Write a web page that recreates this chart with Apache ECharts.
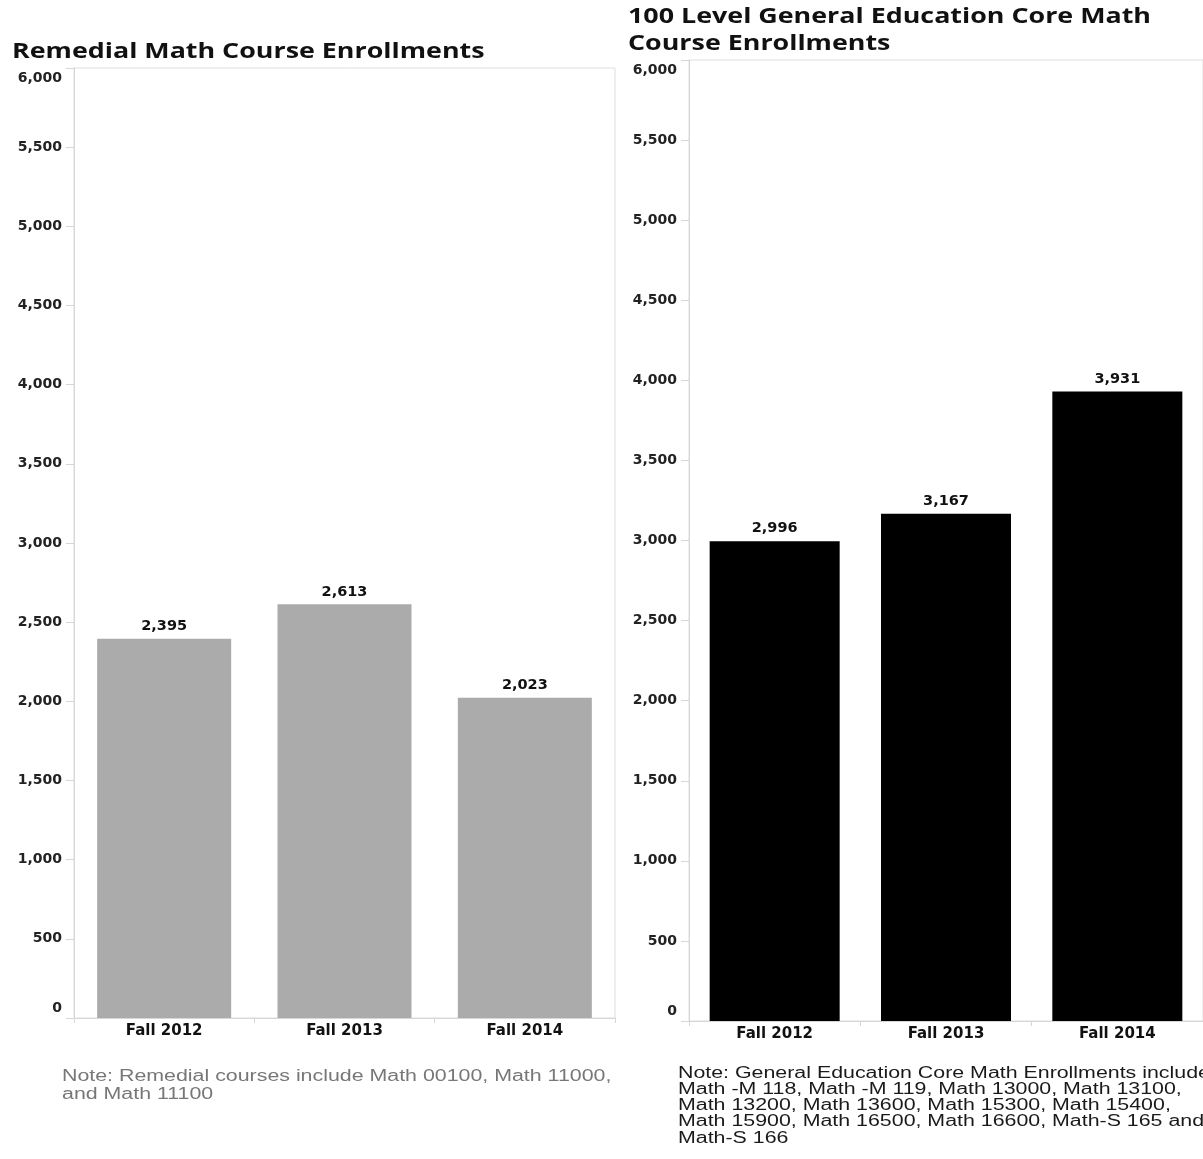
<!DOCTYPE html>
<html>
<head>
<meta charset="utf-8">
<script src="https://cdn.jsdelivr.net/npm/echarts@6/dist/echarts.min.js"></script>
<style>
  html, body { margin: 0; padding: 0; background: #ffffff; }
  #chart { width: 1203px; height: 1159px; }
</style>
</head>
<body>
<div id="chart"></div>
<script>
// Enrollment data by fall term
const terms = ['Fall 2012', 'Fall 2013', 'Fall 2014'];
const remedialEnrollments = [2395, 2613, 2023];
const coreMathEnrollments = [2996, 3167, 3931];
const yTicks = [0, 500, 1000, 1500, 2000, 2500, 3000, 3500, 4000, 4500, 5000, 5500, 6000];

const remedialTitle = 'Remedial Math Course Enrollments';
const coreTitle = '100 Level General Education Core Math\nCourse Enrollments';
const remedialNote = 'Note: Remedial courses include Math 00100, Math 11000,\nand Math 11100';
const coreNote = 'Note: General Education Core Math Enrollments include\nMath -M 118, Math -M 119, Math 13000, Math 13100,\nMath 13200, Math 13600, Math 15300, Math 15400,\nMath 15900, Math 16500, Math 16600, Math-S 165 and\nMath-S 166';

const fmt = v => Number(v).toLocaleString('en-US');
const AXIS_GRAY = '#d6d6d6';
const LABEL_FONT = 'DejaVu Sans, Verdana, sans-serif';
const TITLE_FONT = 'Open Sans, sans-serif';
const NOTE_FONT = 'Liberation Sans, Arial, sans-serif';
const TITLE_WIDE = 1.22;   // horizontal stretch of the panel titles
const NOTE_WIDE = 1.335;   // horizontal stretch of the footnotes

function yAxis(gridIndex) {
  return {
    type: 'value', gridIndex,
    min: yTicks[0], max: yTicks[yTicks.length - 1], interval: yTicks[1] - yTicks[0],
    axisLine: { show: true, lineStyle: { color: AXIS_GRAY } },
    axisTick: { show: true, length: 8, lineStyle: { color: AXIS_GRAY } },
    splitLine: { show: false },
    axisLabel: {
      margin: 12, color: '#222', fontFamily: LABEL_FONT, fontWeight: 'bold', fontSize: 14,
      lineHeight: 20,
      formatter: fmt,
      verticalAlignMinLabel: 'bottom', verticalAlignMaxLabel: 'top'
    }
  };
}
function xAxis(gridIndex) {
  return {
    type: 'category', gridIndex, data: terms,
    axisLine: { show: true, lineStyle: { color: AXIS_GRAY } },
    axisTick: { show: true, length: 5, lineStyle: { color: AXIS_GRAY } },
    axisLabel: { margin: 6, color: '#111', fontFamily: LABEL_FONT, fontWeight: 'bold', fontSize: 15 }
  };
}
function barSeries(idx, data, color, width) {
  return {
    type: 'bar', xAxisIndex: idx, yAxisIndex: idx, data,
    barWidth: width,
    itemStyle: { color },
    label: {
      show: true, position: 'top', distance: 5, formatter: p => fmt(p.value),
      color: '#111', fontFamily: LABEL_FONT, fontWeight: 'bold', fontSize: 14.5
    }
  };
}
function wideText(x, y, text, font, fill, lineHeight, stretch) {
  return {
    type: 'text', x, y, scaleX: stretch, scaleY: 1,
    style: { x: 0, y: 0, text, font, fill, lineHeight, verticalAlign: 'top', align: 'left' }
  };
}

const chart = echarts.init(document.getElementById('chart'), null, { renderer: 'canvas' });
chart.setOption({
  animation: false,
  backgroundColor: '#ffffff',
  grid: [
    { left: 74, top: 68, width: 541, height: 950, show: true, borderColor: '#dedede', borderWidth: 1 },
    { left: 689, top: 60, width: 517, height: 961, show: true, borderColor: '#dedede', borderWidth: 1 }
  ],
  xAxis: [xAxis(0), xAxis(1)],
  yAxis: [yAxis(0), yAxis(1)],
  series: [
    barSeries(0, remedialEnrollments, '#ababab', 134),
    barSeries(1, coreMathEnrollments, '#000000', 130)
  ],
  graphic: [
    wideText(12, 38, remedialTitle, 'bold 22px ' + TITLE_FONT, '#111111', 27, TITLE_WIDE),
    wideText(628, 3, coreTitle, 'bold 22px ' + TITLE_FONT, '#111111', 27, TITLE_WIDE),
    wideText(62, 1068, remedialNote, '16px ' + NOTE_FONT, '#777777', 18, NOTE_WIDE),
    wideText(678, 1065, coreNote, '16px ' + NOTE_FONT, '#1a1a1a', 16.25, NOTE_WIDE)
  ]
});
</script>
</body>
</html>
